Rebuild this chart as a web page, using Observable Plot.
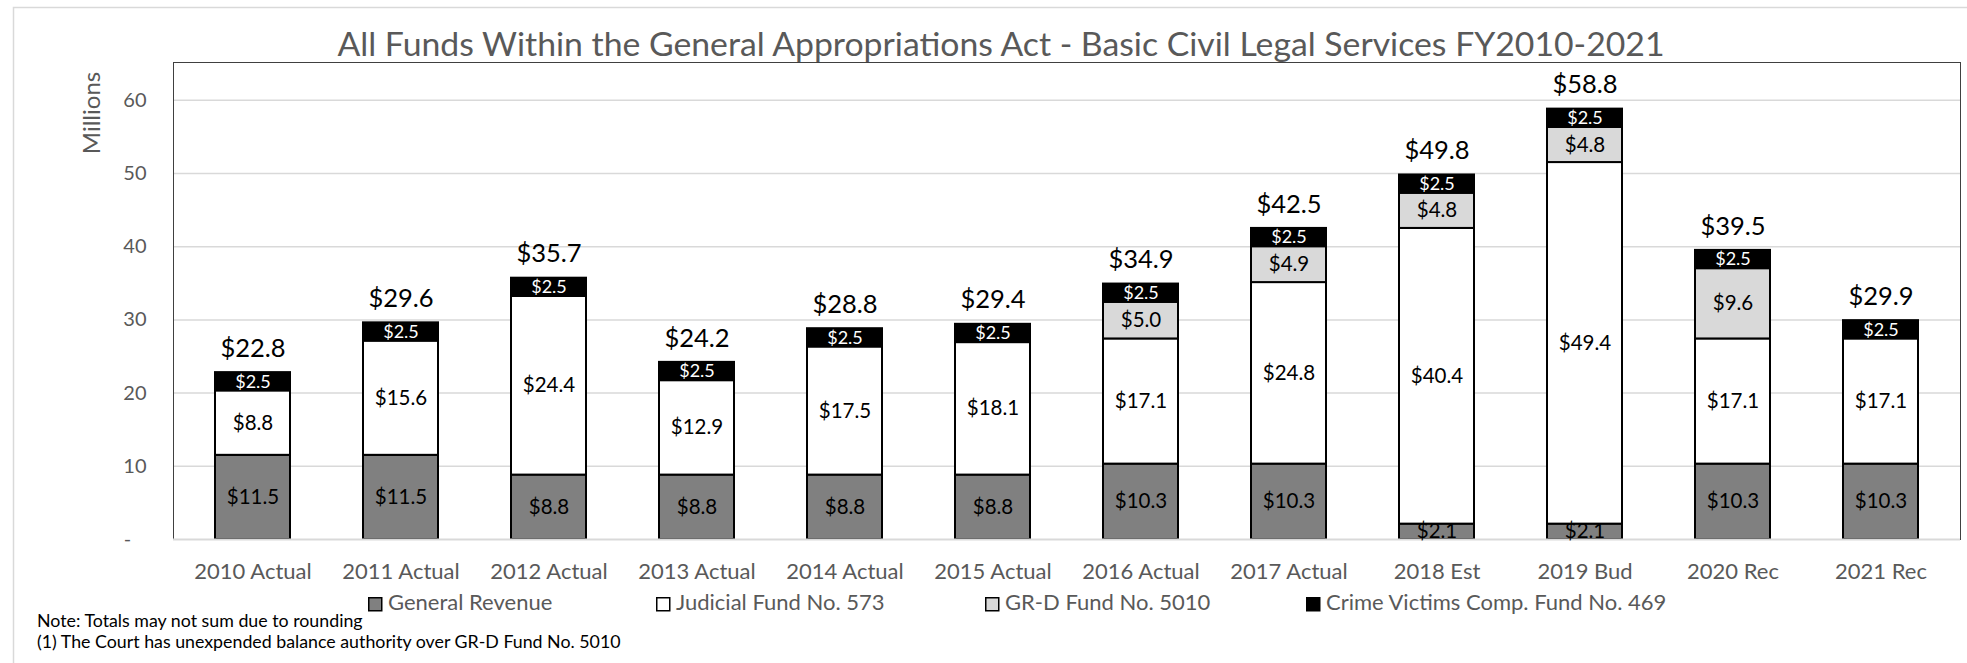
<!DOCTYPE html>
<html><head><meta charset="utf-8">
<script src="https://cdn.jsdelivr.net/npm/d3@7"></script>
<script src="https://cdn.jsdelivr.net/npm/@observablehq/plot@0.6"></script>
<style>
html,body{margin:0;padding:0;background:#fff;overflow:hidden}
#wrap{position:relative;width:1967px;height:663px;font-family:Lato,sans-serif}
#wrap > svg{position:absolute;left:0;top:0}
#overlay{z-index:2;pointer-events:none}
</style></head><body><div id="wrap"></div>
<script>
const categories = ["2010 Actual","2011 Actual","2012 Actual","2013 Actual","2014 Actual","2015 Actual","2016 Actual","2017 Actual","2018 Est","2019 Bud","2020 Rec","2021 Rec"];
const series = ["General Revenue","Judicial Fund No. 573","GR-D Fund No. 5010","Crime Victims Comp. Fund No. 469"];
const generalRevenue = [11.5, 11.5, 8.8, 8.8, 8.8, 8.8, 10.3, 10.3, 2.1, 2.1, 10.3, 10.3];
const judicialFund   = [8.8, 15.6, 24.4, 12.9, 17.5, 18.1, 17.1, 24.8, 40.4, 49.4, 17.1, 17.1];
const grdFund        = [0, 0, 0, 0, 0, 0, 5.0, 4.9, 4.8, 4.8, 9.6, 0];
const crimeVictims   = [2.5, 2.5, 2.5, 2.5, 2.5, 2.5, 2.5, 2.5, 2.5, 2.5, 2.5, 2.5];
const totals         = [22.8, 29.6, 35.7, 24.2, 28.8, 29.4, 34.9, 42.5, 49.8, 58.8, 39.5, 29.9];
const yTicks = [0, 10, 20, 30, 40, 50, 60];
const seriesColors = ["#808080", "#ffffff", "#d9d9d9", "#000000"];
const title = "All Funds Within the General Appropriations Act - Basic Civil Legal Services FY2010-2021";
const yLabel = "Millions";
const notes = ["Note: Totals may not sum due to rounding", "(1) The Court has unexpended balance authority over GR-D Fund No. 5010"];

const seriesValues = [generalRevenue, judicialFund, grdFund, crimeVictims];
const rows = [];
categories.forEach((c, i) => {
  let acc = 0;
  series.forEach((s, j) => {
    const v = seriesValues[j][i];
    if (v > 0) {
      rows.push({category: c, series: s, value: v, y1: acc, y2: acc + v, mid: acc + v / 2});
      acc += v;
    }
  });
});
const totalRows = categories.map((c, i) => ({category: c, total: totals[i]}));
const fmt = v => "$" + v.toFixed(1);
const crime = series[3];

const chart = Plot.plot({
  width: 1967, height: 590,
  marginLeft: 173, marginRight: 7, marginTop: 62, marginBottom: 51,
  style: {fontFamily: "Lato, sans-serif", background: "transparent"},
  x: {domain: categories, paddingInner: 0.49, paddingOuter: 0.245, label: null},
  y: {domain: [0, 65.17], label: null},
  color: {domain: series, range: seriesColors},
  marks: [
    Plot.gridY(yTicks.filter(d => d > 0), {stroke: "#d9d9d9", strokeOpacity: 1, strokeWidth: 1.5}),
    Plot.frame({stroke: "#404040", strokeWidth: 1}),
    Plot.barY(rows, {x: "category", y1: "y1", y2: "y2", fill: "series", stroke: "#000", strokeWidth: 2}),
    Plot.ruleY([0], {stroke: "#d9d9d9", strokeWidth: 2}),
    Plot.text(rows.filter(d => d.series !== crime), {x: "category", y: "mid", text: d => fmt(d.value), fontSize: 20.5, fill: "#000"}),
    Plot.text(rows.filter(d => d.series === crime), {x: "category", y: "mid", text: d => fmt(d.value), fontSize: 18, fill: "#fff"}),
    Plot.text(totalRows, {x: "category", y: "total", text: d => fmt(d.total), dy: -24, fontSize: 25.5, fill: "#000"}),
    Plot.axisY({ticks: yTicks, tickSize: 0, tickPadding: 27, fontSize: 20, color: "#595959",
      tickFormat: d => d === 0 ? "-\u00a0\u00a0\u00a0" : String(d)}),
    Plot.axisX({tickSize: 0, tickPadding: 24, fontSize: 22, color: "#595959"})
  ]
});
document.getElementById("wrap").appendChild(chart);

const ov = d3.select("#wrap").append("svg").attr("id", "overlay")
  .attr("width", 1967).attr("height", 663).style("font-family", "Lato, sans-serif");
ov.append("path").attr("d", "M13.5,680V7.5H1980").attr("fill", "none").attr("stroke", "#d9d9d9").attr("stroke-width", 1.5);
ov.append("text").attr("x", 1001).attr("y", 56).attr("text-anchor", "middle")
  .attr("font-size", 33).attr("fill", "#595959")
  .attr("textLength", 1327).attr("lengthAdjust", "spacingAndGlyphs").text(title);
ov.append("text").attr("transform", "translate(100,113) rotate(-90)").attr("text-anchor", "middle")
  .attr("font-size", 24).attr("fill", "#595959").text(yLabel);
const legendX = [368, 656, 985, 1306];
series.forEach((s, j) => {
  const g = ov.append("g").attr("transform", `translate(${legendX[j]},597)`);
  g.append("rect").attr("x", 0.75).attr("y", 0.75).attr("width", 13).attr("height", 13)
    .attr("fill", seriesColors[j]).attr("stroke", "#000").attr("stroke-width", 1.5);
  g.append("text").attr("x", 20).attr("y", 13).attr("font-size", 22).attr("fill", "#595959").text(s);
});
notes.forEach((n, i) => {
  ov.append("text").attr("x", 37).attr("y", 627 + i * 21).attr("font-size", 17.8).attr("fill", "#000").text(n);
});
</script></body></html>
